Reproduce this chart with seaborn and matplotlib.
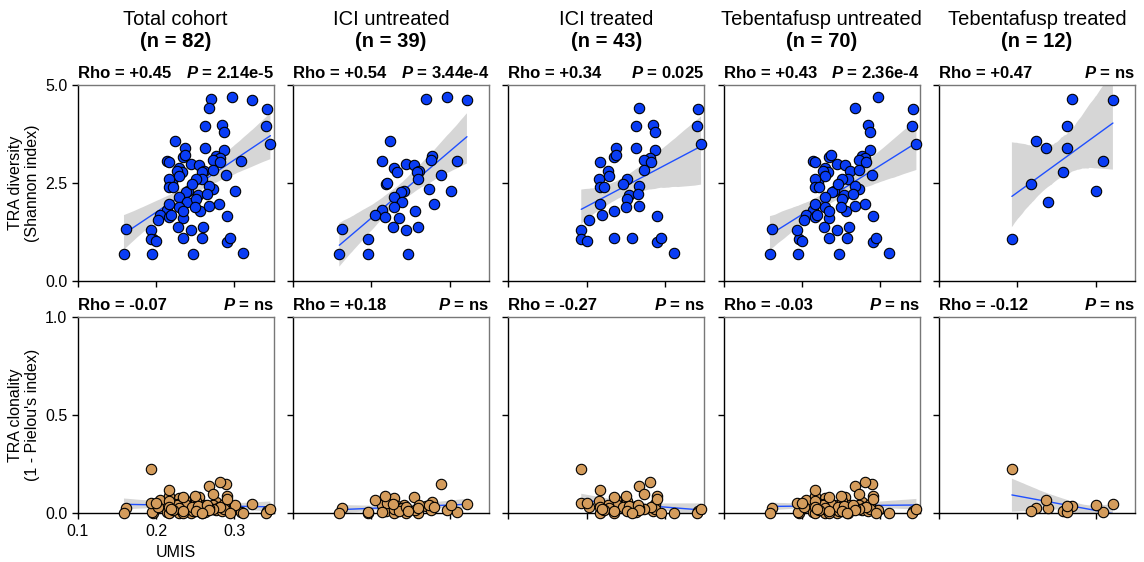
import matplotlib
matplotlib.use("Agg")
import matplotlib.pyplot as plt
import matplotlib.ticker as mticker
import pandas as pd
import seaborn as sns

sns.set_style("ticks")
plt.rcParams["font.family"] = ["Liberation Sans", "DejaVu Sans"]
plt.rcParams["mathtext.fontset"] = "custom"
plt.rcParams["mathtext.it"] = "Liberation Sans:italic:bold"
plt.rcParams["mathtext.rm"] = "Liberation Sans:bold"
plt.rcParams["text.color"] = "black"
plt.rcParams["axes.labelcolor"] = "black"

# ICI untreated patients (n = 39)
ici_unt_umis = [0.270, 0.297, 0.322, 0.224, 0.277, 0.276, 0.309, 0.214, 0.229, 0.233,
                0.244, 0.255, 0.261, 0.258, 0.259, 0.289, 0.218, 0.220, 0.273, 0.241,
                0.238, 0.301, 0.229, 0.239, 0.280, 0.229, 0.214, 0.256, 0.205, 0.217,
                0.235, 0.228, 0.260, 0.244, 0.162, 0.196, 0.159, 0.195, 0.247]
ici_unt_div = [4.64, 4.70, 4.61, 3.58, 3.18, 3.08, 3.05, 3.05, 2.89, 2.78,
               2.99, 2.96, 2.81, 2.78, 2.60, 2.69, 2.46, 2.50, 2.34, 2.29,
               2.27, 2.29, 2.13, 2.01, 1.97, 1.88, 1.80, 1.78, 1.67, 1.64,
               1.60, 1.37, 1.38, 1.31, 1.33, 1.08, 0.69, 0.69, 0.69]
ici_unt_clon = [0.038, 0.014, 0.044, 0.027, 0.055, 0.015, 0.007, 0.041, 0.075, 0.036,
                0.000, 0.082, 0.041, 0.010, 0.000, 0.150, 0.010, 0.049, 0.041, 0.041,
                0.026, 0.041, 0.000, 0.024, 0.030, 0.020, 0.007, 0.014, 0.068, 0.085,
                0.010, 0.045, 0.025, 0.030, 0.024, 0.000, 0.000, 0.005, 0.012]
ici_unt_teb = [1, 0, 1, 1, 0, 0, 1, 0, 0, 0,
               0, 0, 0, 1, 0, 0, 1, 0, 0, 0,
               0, 1, 0, 1, 0, 0, 0, 0, 0, 0,
               0, 0, 0, 0, 0, 0, 0, 0, 0]

# ICI treated patients (n = 43)
ici_trt_umis = [0.267, 0.342, 0.263, 0.284, 0.287, 0.341, 0.346, 0.237, 0.263, 0.235,
                0.237, 0.287, 0.217, 0.281, 0.273, 0.282, 0.273, 0.227, 0.229, 0.216,
                0.251, 0.246, 0.217, 0.222, 0.267, 0.254, 0.265, 0.251, 0.250, 0.267,
                0.217, 0.235, 0.219, 0.290, 0.203, 0.193, 0.193, 0.200, 0.235, 0.258,
                0.290, 0.295, 0.311]
ici_trt_div = [4.40, 4.38, 3.95, 3.97, 3.79, 3.95, 3.49, 3.38, 3.38, 3.16,
               3.20, 3.33, 3.04, 3.13, 3.09, 3.03, 2.82, 2.81, 2.67, 2.61,
               2.60, 2.46, 2.39, 2.39, 2.41, 2.18, 2.22, 2.09, 1.88, 1.91,
               1.95, 1.79, 1.68, 1.66, 1.56, 1.30, 1.07, 1.03, 1.09, 1.09,
               1.00, 1.09, 0.70]
ici_trt_clon = [0.138, 0.010, 0.007, 0.010, 0.044, 0.000, 0.019, 0.068, 0.034, 0.000,
                0.044, 0.020, 0.116, 0.159, 0.096, 0.030, 0.020, 0.041, 0.025, 0.061,
                0.061, 0.030, 0.000, 0.015, 0.025, 0.035, 0.041, 0.010, 0.087, 0.015,
                0.030, 0.082, 0.020, 0.087, 0.031, 0.053, 0.224, 0.053, 0.012, 0.000,
                0.070, 0.000, 0.000]
ici_trt_teb = [0, 0, 1, 0, 0, 0, 0, 1, 1, 0,
               0, 0, 0, 0, 0, 0, 0, 0, 0, 0,
               0, 0, 0, 0, 0, 0, 0, 0, 0, 0,
               0, 0, 0, 0, 0, 0, 1, 0, 0, 0,
               0, 0, 0]

titles = ["Total cohort", "ICI untreated", "ICI treated",
          "Tebentafusp untreated", "Tebentafusp treated"]
rho_div = ["+0.45", "+0.54", "+0.34", "+0.43", "+0.47"]
p_div = ["2.14e-5", "3.44e-4", "0.025", "2.36e-4", "ns"]
rho_clon = ["-0.07", "+0.18", "-0.27", "-0.03", "-0.12"]
p_clon = ["ns", "ns", "ns", "ns", "ns"]

df = pd.concat([
    pd.DataFrame({"umis": ici_unt_umis, "diversity": ici_unt_div,
                  "clonality": ici_unt_clon, "ici": 0, "teb": ici_unt_teb}),
    pd.DataFrame({"umis": ici_trt_umis, "diversity": ici_trt_div,
                  "clonality": ici_trt_clon, "ici": 1, "teb": ici_trt_teb}),
], ignore_index=True)

groups = [
    df,
    df[df["ici"] == 0],
    df[df["ici"] == 1],
    df[df["teb"] == 0],
    df[df["teb"] == 1],
]

BLUE = "#0a3df5"
TAN = "#d49c5c"
LINE = "#1f4fff"
BAND = "#d6d6d6"

fig, axes = plt.subplots(2, 5, figsize=(11.44, 5.62), dpi=100)
fig.subplots_adjust(left=0.068, right=0.992, top=0.849, bottom=0.087,
                    wspace=0.1, hspace=0.184)

rows = [
    ("diversity", BLUE, (0, 5), [0, 2.5, 5], rho_div, p_div,
     "TRA diversity\n(Shannon index)"),
    ("clonality", TAN, (0, 1), [0, 0.5, 1.0], rho_clon, p_clon,
     "TRA clonality\n(1 - Pielou's index)"),
]

for r, (col, color, ylim, yticks, rhos, ps, ylabel) in enumerate(rows):
    for c, sub in enumerate(groups):
        ax = axes[r, c]
        sns.regplot(
            data=sub, x="umis", y=col, ax=ax, ci=95, seed=1, truncate=True,
            scatter_kws=dict(s=56, color=color, edgecolor="black",
                             linewidths=0.8, alpha=1, clip_on=False, zorder=3),
            line_kws=dict(color=LINE, lw=1.0, zorder=2),
        )
        # grey confidence band
        for coll in ax.collections:
            if isinstance(coll, matplotlib.collections.PolyCollection):
                coll.set_facecolor(BAND)
                coll.set_edgecolor("none")
                coll.set_alpha(1)
                coll.set_zorder(1)

        ax.set_xlim(0.1, 0.35)
        ax.set_ylim(*ylim)
        ax.set_xticks([0.1, 0.2, 0.3])
        ax.set_yticks(yticks)
        ax.xaxis.set_major_formatter(mticker.FormatStrFormatter("%.1f"))
        ax.yaxis.set_major_formatter(mticker.FormatStrFormatter("%.1f"))
        ax.tick_params(direction="out", length=4, width=1, labelsize=11.5,
                       colors="black")
        for side in ["left", "bottom"]:
            ax.spines[side].set_color("black")
            ax.spines[side].set_linewidth(1)
        for side in ["top", "right"]:
            ax.spines[side].set_color("#777777")
            ax.spines[side].set_linewidth(1)

        ax.set_xlabel("")
        ax.set_ylabel("")
        if c == 0:
            ax.set_ylabel(ylabel, fontsize=11.5, labelpad=4, linespacing=1.1)
        else:
            ax.tick_params(labelleft=False)
        if r == 1 and c == 0:
            ax.set_xlabel("UMIS", fontsize=11.5, labelpad=5)
        else:
            ax.tick_params(labelbottom=False)

        ax.text(0, 1.035, f"Rho = {rhos[c]}", transform=ax.transAxes,
                ha="left", va="baseline", fontsize=12, fontweight="bold")
        ax.text(1, 1.035, f"$P$ = {ps[c]}", transform=ax.transAxes,
                ha="right", va="baseline", fontsize=12, fontweight="bold")

        if r == 0:
            ax.text(0.5, 1.332, titles[c], transform=ax.transAxes,
                    ha="center", va="center", fontsize=14.5)
            ax.text(0.5, 1.219, f"(n = {len(sub)})", transform=ax.transAxes,
                    ha="center", va="center", fontsize=14.5, fontweight="bold")

plt.savefig("out.png", dpi=100)
plt.close()
